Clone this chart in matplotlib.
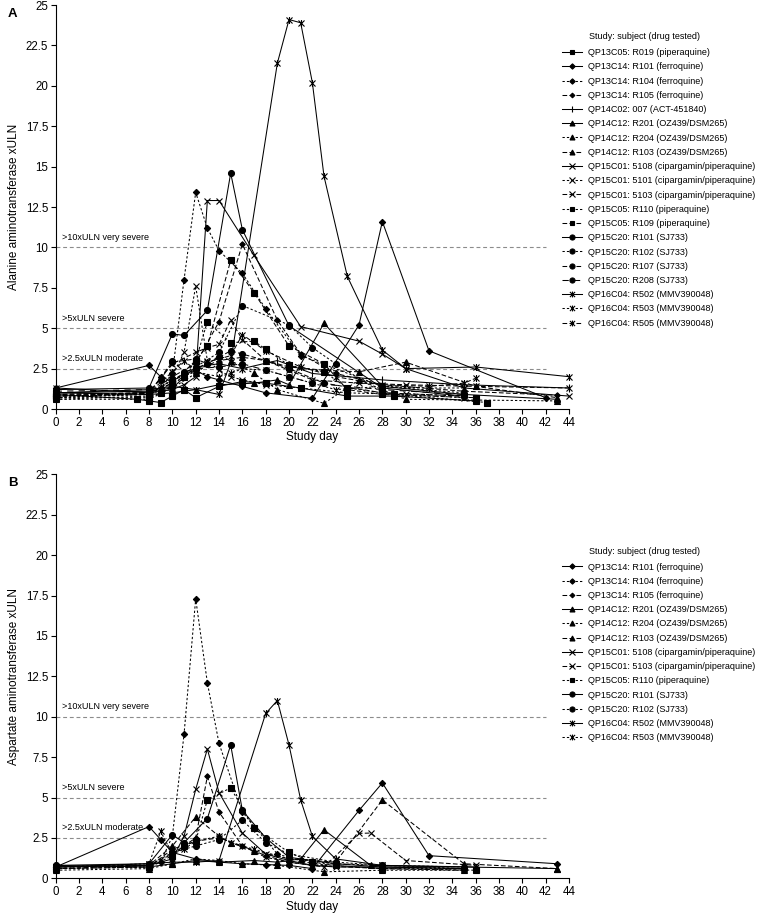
import matplotlib
matplotlib.use("Agg")
import matplotlib.pyplot as plt
from matplotlib.path import Path

plt.rcParams['font.family'] = ['Liberation Sans', 'DejaVu Sans']

# ---------------- Panel A : ALT (xULN) ----------------
alt_labels = [
    "QP13C05: R019 (piperaquine)", "QP13C14: R101 (ferroquine)", "QP13C14: R104 (ferroquine)",
    "QP13C14: R105 (ferroquine)", "QP14C02: 007 (ACT-451840)", "QP14C12: R201 (OZ439/DSM265)",
    "QP14C12: R204 (OZ439/DSM265)", "QP14C12: R103 (OZ439/DSM265)",
    "QP15C01: 5108 (cipargamin/piperaquine)", "QP15C01: 5101 (cipargamin/piperaquine)",
    "QP15C01: 5103 (cipargamin/piperaquine)", "QP15C05: R110 (piperaquine)",
    "QP15C05: R109 (piperaquine)", "QP15C20: R101 (SJ733)", "QP15C20: R102 (SJ733)",
    "QP15C20: R107 (SJ733)", "QP15C20: R208 (SJ733)", "QP16C04: R502 (MMV390048)",
    "QP16C04: R503 (MMV390048)", "QP16C04: R505 (MMV390048)",
]
alt_days = [
    [0, 7, 8, 9, 10, 11, 12, 14, 16, 18, 21, 25, 29, 36],
    [0, 8, 9, 10, 11, 12, 13, 14, 16, 18, 22, 26, 28, 32, 42],
    [0, 8, 9, 10, 11, 12, 13, 14, 16, 18, 21, 28, 35],
    [0, 8, 10, 12, 14, 16, 19, 21, 24, 28, 35, 43],
    [0, 8, 10, 12, 14, 16, 19, 22, 28, 35, 44],
    [0, 8, 10, 12, 14, 17, 19, 20, 23, 28, 35, 43],
    [0, 8, 10, 12, 14, 15, 17, 19, 23, 26, 30, 43],
    [0, 8, 10, 12, 14, 16, 18, 20, 23, 26, 30, 36, 43],
    [0, 8, 10, 11, 12, 13, 14, 17, 21, 26, 28, 30, 35, 44],
    [0, 8, 9, 10, 11, 12, 13, 14, 15, 16, 18, 21, 25, 30, 35],
    [0, 8, 10, 12, 13, 14, 15, 16, 18, 20, 22, 26, 30, 36, 44],
    [0, 8, 9, 10, 11, 12, 13, 15, 17, 18, 20, 23, 25, 29, 37],
    [0, 8, 10, 12, 13, 15, 17, 20, 23, 25, 28, 36],
    [0, 8, 10, 11, 13, 15, 16, 20, 28, 35],
    [0, 8, 10, 12, 14, 16, 20, 22, 24, 28, 35],
    [0, 8, 10, 12, 13, 14, 15, 16, 18, 20, 23, 28, 35],
    [0, 8, 9, 10, 11, 12, 14, 16, 18, 20, 22, 28, 35],
    [0, 8, 10, 12, 14, 15, 19, 20, 21, 22, 23, 25, 28, 30, 36, 44],
    [0, 8, 10, 12, 14, 15, 16, 18, 20, 22, 24, 28, 32, 35],
    [0, 8, 10, 11, 12, 13, 14, 15, 16, 18, 21, 24, 28, 32, 35, 36],
]
alt_vals = [
    [0.9, 0.6, 0.5, 0.4, 0.8, 1.2, 0.7, 1.4, 1.7, 1.6, 1.3, 0.8, 0.8, 0.5],
    [1.3, 2.7, 2.0, 1.7, 2.2, 2.4, 2.0, 1.8, 1.4, 1.0, 0.66, 5.2, 11.6, 3.6, 0.7],
    [0.7, 1.0, 1.3, 2.2, 8.0, 13.4, 11.2, 9.8, 8.4, 6.2, 3.3, 1.4, 1.0],
    [0.8, 1.0, 2.0, 2.8, 5.4, 10.2, 5.5, 3.4, 2.2, 1.5, 1.1, 0.85],
    [1.0, 1.1, 1.3, 2.6, 2.8, 2.5, 3.0, 2.2, 1.8, 1.5, 1.3],
    [1.0, 0.9, 1.0, 1.2, 1.5, 1.6, 1.8, 1.5, 5.3, 1.4, 0.9, 0.6],
    [0.6, 0.6, 1.3, 2.2, 3.3, 3.0, 2.2, 1.2, 0.35, 1.8, 0.6, 0.5],
    [0.8, 1.0, 1.6, 2.4, 3.0, 3.2, 3.0, 2.6, 2.4, 2.3, 2.9, 1.4, 0.7],
    [1.3, 1.0, 1.2, 1.5, 2.0, 12.9, 12.9, 9.5, 5.1, 4.2, 3.4, 2.5, 1.3, 0.8],
    [0.6, 0.8, 1.2, 2.0, 3.5, 7.6, 3.0, 2.4, 2.0, 1.8, 1.5, 1.3, 1.0, 0.9, 0.7],
    [0.9, 1.0, 2.8, 3.5, 3.8, 4.0, 5.5, 4.3, 3.0, 2.4, 1.8, 1.6, 1.5, 1.4, 1.3],
    [0.7, 0.7, 1.0, 1.5, 2.0, 3.0, 5.4, 4.1, 4.2, 3.7, 2.7, 2.3, 1.3, 0.9, 0.4],
    [0.8, 0.9, 1.6, 3.0, 3.9, 9.2, 7.2, 3.9, 2.8, 1.2, 0.9, 0.7],
    [1.2, 1.3, 4.65, 4.55, 6.1, 14.6, 11.1, 5.15, 1.3, 0.8],
    [0.8, 0.9, 1.8, 2.6, 3.5, 6.4, 5.2, 3.8, 2.8, 1.0, 0.8],
    [0.9, 1.0, 2.9, 3.1, 2.8, 3.2, 3.6, 3.4, 3.0, 2.5, 1.6, 1.0, 0.8],
    [1.1, 1.2, 1.8, 3.0, 2.3, 2.5, 2.6, 2.8, 2.4, 2.0, 1.6, 1.2, 0.9],
    [1.0, 1.2, 1.4, 1.2, 0.9, 2.9, 21.4, 24.1, 23.9, 20.2, 14.4, 8.2, 3.65, 2.5, 2.6, 2.0],
    [0.7, 0.9, 1.8, 2.3, 2.0, 2.2, 2.5, 2.4, 2.0, 1.6, 1.2, 1.4, 1.3, 1.3],
    [0.8, 1.0, 2.3, 3.0, 2.4, 2.9, 3.1, 3.3, 4.6, 3.6, 2.6, 2.0, 1.5, 1.4, 1.6, 1.9],
]

# ---------------- Panel B : AST (xULN) ----------------
ast_labels = [
    "QP13C14: R101 (ferroquine)", "QP13C14: R104 (ferroquine)", "QP13C14: R105 (ferroquine)",
    "QP14C12: R201 (OZ439/DSM265)", "QP14C12: R204 (OZ439/DSM265)", "QP14C12: R103 (OZ439/DSM265)",
    "QP15C01: 5108 (cipargamin/piperaquine)", "QP15C01: 5103 (cipargamin/piperaquine)",
    "QP15C05: R110 (piperaquine)", "QP15C20: R101 (SJ733)", "QP15C20: R102 (SJ733)",
    "QP16C04: R502 (MMV390048)", "QP16C04: R503 (MMV390048)",
]
ast_days = [
    [0, 8, 9, 10, 12, 14, 16, 18, 20, 22, 26, 28, 32, 43],
    [0, 8, 9, 10, 11, 12, 13, 14, 16, 19, 22, 28, 35],
    [0, 8, 10, 12, 13, 14, 16, 18, 20, 22, 28, 35],
    [0, 8, 10, 12, 14, 17, 19, 21, 23, 27, 35, 43],
    [0, 8, 10, 12, 14, 16, 19, 23, 28, 35],
    [0, 8, 10, 12, 14, 15, 17, 20, 24, 28, 35, 43],
    [0, 8, 10, 11, 12, 13, 14, 16, 18, 20, 22, 24, 28, 35],
    [0, 8, 10, 12, 14, 16, 18, 20, 23, 26, 27, 30, 36],
    [0, 8, 10, 11, 12, 13, 15, 17, 20, 22, 24, 28, 36],
    [0, 8, 10, 11, 13, 15, 16, 18, 20, 24, 28, 35],
    [0, 8, 10, 12, 14, 16, 18, 20, 24, 28, 35],
    [0, 8, 10, 12, 14, 18, 19, 20, 21, 22, 24, 28, 36],
    [0, 8, 9, 10, 11, 12, 14, 15, 17, 20, 24, 28, 35],
]
ast_vals = [
    [0.7, 3.2, 2.4, 1.6, 1.2, 1.0, 0.9, 0.85, 0.8, 0.6, 4.2, 5.9, 1.4, 0.9],
    [0.6, 0.7, 1.0, 2.6, 8.9, 17.3, 12.1, 8.35, 4.1, 1.5, 0.9, 0.6, 0.6],
    [0.6, 0.8, 1.5, 2.5, 6.3, 4.1, 2.0, 1.4, 1.0, 0.8, 0.6, 0.5],
    [0.8, 0.7, 0.9, 1.1, 1.0, 1.1, 1.0, 1.2, 3.0, 0.8, 0.7, 0.6],
    [0.5, 0.6, 0.9, 1.2, 1.1, 0.9, 0.8, 0.4, 0.5, 0.5],
    [0.7, 0.8, 2.0, 3.8, 2.6, 2.2, 1.7, 1.2, 1.0, 4.85, 0.9, 0.6],
    [0.7, 0.8, 1.2, 2.6, 5.5, 8.0, 5.3, 2.8, 1.5, 1.1, 0.8, 0.7, 0.7, 0.6],
    [0.6, 0.7, 1.8, 2.3, 2.5, 2.0, 1.3, 1.0, 0.7, 2.78, 2.8, 1.1, 0.8],
    [0.6, 0.7, 1.4, 2.0, 2.3, 4.85, 5.6, 3.1, 1.6, 1.0, 0.8, 0.6, 0.5],
    [0.8, 0.9, 2.7, 2.2, 3.7, 8.25, 4.2, 2.5, 1.3, 0.9, 0.7, 0.6],
    [0.7, 0.8, 1.6, 2.0, 2.4, 3.6, 2.2, 1.5, 1.0, 0.8, 0.6],
    [0.7, 0.9, 1.0, 1.0, 1.1, 10.2, 11.0, 8.25, 4.85, 2.6, 1.2, 0.8, 0.7],
    [0.7, 0.9, 2.9, 1.5, 1.8, 2.3, 2.6, 2.2, 1.8, 1.2, 0.9, 0.8, 0.7],
]

ref_levels = [10, 5, 2.5]
ref_texts = [">10xULN very severe", ">5xULN severe", ">2.5xULN moderate"]
ref_span = [0, 42]
x_ticks = list(range(0, 45, 2))
y_ticks = [0, 2.5, 5, 7.5, 10, 12.5, 15, 17.5, 20, 22.5, 25]
y_ticklabels = ["0", "2.5", "5", "7.5", "10", "12.5", "15", "17.5", "20", "22.5", "25"]

# ---------------- styles ----------------
SOLID = '-'
DOT = (0, (2.2, 2.0))
DASH = (0, (4.5, 2.2))
LDASH = (0, (6, 5))
ASTER = Path([(-1, -1), (1, 1), (-1, 1), (1, -1), (0, -1.15), (0, 1.15)],
             [Path.MOVETO, Path.LINETO, Path.MOVETO, Path.LINETO, Path.MOVETO, Path.LINETO])

STYLE = {
    ("QP13C05", "R019"): (SOLID, 's', 4.2),
    ("QP13C14", "R101"): (SOLID, 'D', 3.2),
    ("QP13C14", "R104"): (DOT, 'D', 3.2),
    ("QP13C14", "R105"): (DASH, 'D', 2.8),
    ("QP14C02", "007"): (SOLID, '|', 5.5),
    ("QP14C12", "R201"): (SOLID, '^', 4.2),
    ("QP14C12", "R204"): (DOT, '^', 4.2),
    ("QP14C12", "R103"): (DASH, '^', 4.2),
    ("QP15C01", "5108"): (SOLID, 'x', 4.5),
    ("QP15C01", "5101"): (DOT, 'x', 4.5),
    ("QP15C01", "5103"): (DASH, 'x', 4.5),
    ("QP15C05", "R110"): (DOT, 's', 4.2),
    ("QP15C05", "R109"): (DASH, 's', 4.2),
    ("QP15C20", "R101"): (SOLID, 'o', 4.3),
    ("QP15C20", "R102"): (DOT, 'o', 4.3),
    ("QP15C20", "R107"): (DASH, 'o', 4.3),
    ("QP15C20", "R208"): (LDASH, 'o', 4.3),
    ("QP16C04", "R502"): (SOLID, ASTER, 5.0),
    ("QP16C04", "R503"): (DOT, ASTER, 5.0),
    ("QP16C04", "R505"): (DASH, ASTER, 5.0),
}


def style_for(label):
    study, rest = label.split(": ")
    return STYLE[(study, rest.split(" ")[0])]


W, H = 757, 917
fig = plt.figure(figsize=(W / 100, H / 100), dpi=100)

X0, X1 = 55.7, 569.0


def make_axes(y_bottom, y_top):
    return fig.add_axes([X0 / W, 1 - y_bottom / H, (X1 - X0) / W, (y_bottom - y_top) / H])


axA = make_axes(409.0, 5.0)
axB = make_axes(878.3, 474.3)

TICK_FS = 8.3
LAB_FS = 8.5
LEG_FS = 6.5


def draw_panel(ax, labels, days, vals, ylabel, panel_letter, legend_top_px):
    handles = []
    for lab, d, v in zip(labels, days, vals):
        ls, mk, ms = style_for(lab)
        ln, = ax.plot(d, v, color='black', lw=0.75, linestyle=ls, marker=mk,
                      markersize=ms, markerfacecolor='black', markeredgecolor='black',
                      markeredgewidth=0.8, label=lab, clip_on=False, zorder=3)
        handles.append(ln)
    for lvl, txt in zip(ref_levels, ref_texts):
        ax.plot(ref_span, [lvl, lvl], color='#8c8c8c', lw=0.8,
                linestyle=(0, (3.5, 2.5)), zorder=1)
        ax.text(0.5, lvl + 0.35, txt, fontsize=6.5, ha='left', va='bottom', color='black')
    ax.set_xlim(0, 44)
    ax.set_ylim(0, 25)
    ax.set_xticks(x_ticks)
    ax.set_xticklabels([str(t) for t in x_ticks], fontsize=TICK_FS)
    ax.set_yticks(y_ticks)
    ax.set_yticklabels(y_ticklabels, fontsize=TICK_FS)
    for s in ('top', 'right'):
        ax.spines[s].set_visible(False)
    for s in ('left', 'bottom'):
        ax.spines[s].set_linewidth(0.8)
        ax.spines[s].set_color('black')
    ax.tick_params(axis='both', direction='out', length=3.5, width=0.8, pad=2, colors='black')
    ax.set_xlabel("Study day", fontsize=LAB_FS, labelpad=2)
    ax.set_ylabel(ylabel, fontsize=LAB_FS, labelpad=4)
    bb = ax.get_position()
    fig.text(8 / W, bb.y1 - 3 / H, panel_letter, fontsize=9.5, fontweight='bold',
             ha='left', va='top')
    fig.text(589 / W, 1 - legend_top_px / H, "Study: subject (drug tested)",
             fontsize=LEG_FS, ha='left', va='center')
    fig.legend(handles=handles, loc='upper left',
               bbox_to_anchor=(562 / W, 1 - (legend_top_px + 11.5) / H),
               frameon=False, fontsize=LEG_FS, handlelength=2.2, handletextpad=0.7,
               labelspacing=0.58, borderpad=0, borderaxespad=0, markerscale=0.85)


draw_panel(axA, alt_labels, alt_days, alt_vals, "Alanine aminotransferase xULN", "A", 36.7)
draw_panel(axB, ast_labels, ast_days, ast_vals, "Aspartate aminotransferase xULN", "B", 551.0)

fig.savefig("out.png", dpi=100)
